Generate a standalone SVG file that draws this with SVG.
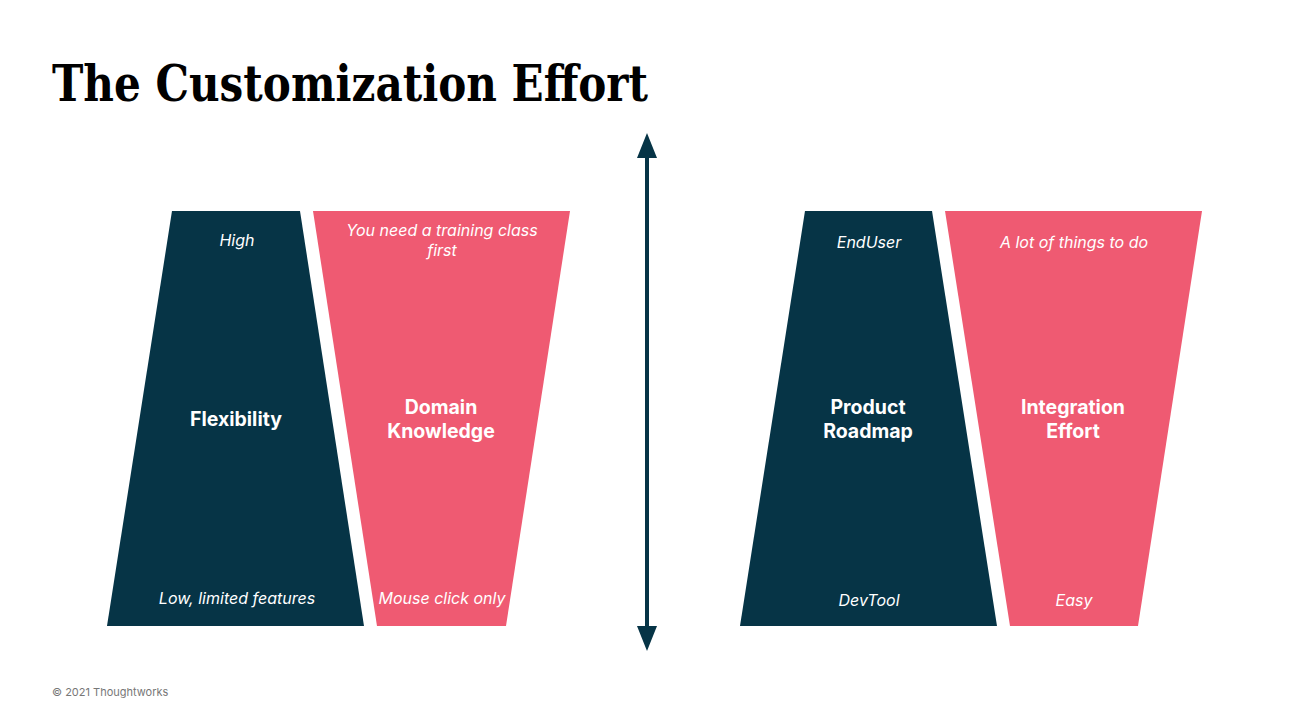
<svg xmlns="http://www.w3.org/2000/svg" width="1295" height="728" viewBox="0 0 1295 728">
<style>
.dark{fill:#063446}
.pink{fill:#EF5A72}
.t{font-family:Inter,"Noto Sans",sans-serif;fill:#fff;text-anchor:middle;dominant-baseline:central}
.i{font-size:16px;font-style:italic}
.b{font-size:19.5px;font-weight:bold}
</style>
<defs>
<marker id="ah" viewBox="0 0 25 20" markerWidth="25" markerHeight="20" refX="19" refY="10" orient="auto-start-reverse" markerUnits="userSpaceOnUse">
<path d="M0,0 L25,10 L0,20 Z" fill="#063446"/>
</marker>
</defs>
<rect width="1295" height="728" fill="#fff"/>
<text x="52" y="101" font-family="'DejaVu Serif',serif" font-weight="bold" font-size="50" textLength="596" lengthAdjust="spacingAndGlyphs" fill="#000">The Customization Effort</text>
<g id="flexibility">
<polygon class="dark" points="172,211 300,211 364,626 107,626"/>
<text class="t i" x="237" y="240">High</text>
<text class="t b" x="236" y="419">Flexibility</text>
<text class="t i" x="237" y="598">Low, limited features</text>
</g>
<g id="domain-knowledge">
<polygon class="pink" points="313,211 570,211 506,626 377,626"/>
<text class="t i" x="442" y="230">You need a training class</text>
<text class="t i" x="442" y="250">first</text>
<text class="t b" x="441" y="407">Domain</text>
<text class="t b" x="441" y="431">Knowledge</text>
<text class="t i" x="442" y="598">Mouse click only</text>
</g>
<g id="product-roadmap">
<polygon class="dark" points="805,211 932,211 997,626 740,626"/>
<text class="t i" x="869" y="242">EndUser</text>
<text class="t b" x="868" y="407">Product</text>
<text class="t b" x="868" y="431">Roadmap</text>
<text class="t i" x="869" y="600">DevTool</text>
</g>
<g id="integration-effort">
<polygon class="pink" points="945,211 1202,211 1138,626 1010,626"/>
<text class="t i" x="1074" y="242">A lot of things to do</text>
<text class="t b" x="1073" y="407">Integration</text>
<text class="t b" x="1073" y="431">Effort</text>
<text class="t i" x="1074" y="600">Easy</text>
</g>
<g id="connectors">
<line x1="647" y1="139" x2="647" y2="645" stroke="#063446" stroke-width="4" marker-start="url(#ah)" marker-end="url(#ah)"/>
</g>
<text x="52" y="696" font-family="Inter,'Noto Sans',sans-serif" font-size="11" fill="#777">© 2021 Thoughtworks</text>
</svg>
